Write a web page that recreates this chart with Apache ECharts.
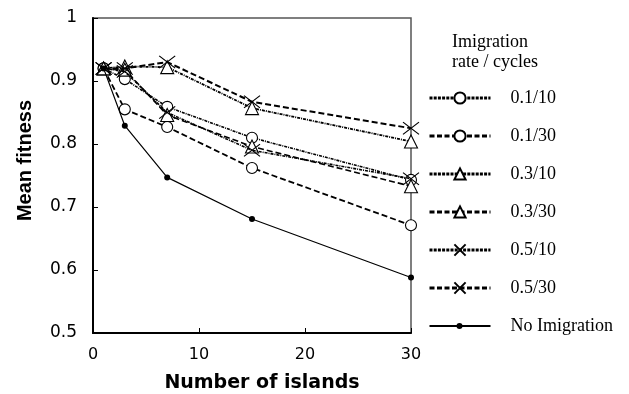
<!DOCTYPE html>
<html>
<head>
<meta charset="utf-8">
<script src="https://cdn.jsdelivr.net/npm/echarts@6/dist/echarts.min.js"></script>
<style>
html,body{margin:0;padding:0;background:#fff;}
#chart{width:629px;height:394px;}
</style>
</head>
<body>
<div id="chart"></div>
<script>
// ---- data ----
const islands = [1, 3, 7, 15, 30];
const seriesNames = ['0.1/10', '0.1/30', '0.3/10', '0.3/30', '0.5/10', '0.5/30', 'No Imigration'];
const r01c10 = [0.920, 0.903, 0.859, 0.810, 0.743];
const r01c30 = [0.920, 0.855, 0.827, 0.762, 0.671];
const r03c10 = [0.920, 0.923, 0.922, 0.857, 0.804];
const r03c30 = [0.920, 0.918, 0.846, 0.796, 0.733];
const r05c10 = [0.920, 0.915, 0.850, 0.790, 0.745];
const r05c30 = [0.920, 0.920, 0.930, 0.867, 0.825];
const noImig = [0.920, 0.829, 0.747, 0.681, 0.588];
const xTicks = [0, 10, 20, 30];
const yTicks = [0.5, 0.6, 0.7, 0.8, 0.9, 1];

const values = [r01c10, r01c30, r03c10, r03c30, r05c10, r05c30, noImig];

const DOTTED = [3, 1, 1, 1];
const DASHED = [6, 3];
const CROSS = 'path://M0,0L16,14M16,0L0,14';

const styles = [
  {symbol: 'circle', size: 11, dash: DOTTED, width: 1.6, legendDash: [3, 1.2]},
  {symbol: 'circle', size: 11, dash: DASHED, width: 1.8, legendDash: [5, 2.5]},
  {symbol: 'triangle', size: 13, dash: DOTTED, width: 1.8, legendDash: [3, 1.2]},
  {symbol: 'triangle', size: 13, dash: DASHED, width: 1.6, legendDash: [5, 2.5]},
  {symbol: CROSS, size: [16, 14], dash: DOTTED, width: 1.6, legendDash: [3, 1.2]},
  {symbol: CROSS, size: [16, 14], dash: DASHED, width: 2, legendDash: [5, 2.5]},
  {symbol: 'circle', size: 6, dash: 'solid', width: 1.2, legendDash: 'solid'}
];

const series = seriesNames.map((name, i) => {
  const st = styles[i];
  const isNo = i === 6;
  return {
    name: name,
    type: 'line',
    data: islands.map((x, k) => [x, values[i][k]]),
    symbol: st.symbol,
    symbolSize: st.size,
    symbolKeepAspect: true,
    showAllSymbol: true,
    z: isNo ? 3 : 2 + i * 0.01,
    lineStyle: {color: '#000', width: st.width, type: st.dash},
    itemStyle: isNo
      ? {color: '#000', borderColor: '#000', borderWidth: 0}
      : {color: '#fff', borderColor: '#000', borderWidth: 1.1},
    emphasis: {disabled: true},
    animation: false
  };
});

const legendData = seriesNames.map((name, i) => {
  if (i === 6) {
    return {
      name: name,
      icon: 'path://M0,6H61V8H0Z M27,7A3,3 0 1,1 33,7A3,3 0 1,1 27,7Z',
      itemStyle: {color: '#000', borderWidth: 0}
    };
  }
  return {name: name, lineStyle: {width: 3, type: styles[i].legendDash, color: '#000'}};
});

const chart = echarts.init(document.getElementById('chart'), null, {renderer: 'canvas'});
chart.setOption({
  animation: false,
  backgroundColor: '#fff',
  title: {
    text: 'Imigration\nrate / cycles',
    left: 447,
    top: 27,
    textStyle: {fontFamily: 'Liberation Serif', fontSize: 18, fontWeight: 'normal', color: '#000', lineHeight: 20}
  },
  legend: {
    orient: 'vertical',
    left: 423,
    top: 84,
    itemWidth: 61,
    itemHeight: 14,
    itemGap: 20,
    selectedMode: false,
    data: legendData,
    textStyle: {fontFamily: 'Liberation Serif', fontSize: 18, color: '#000', lineHeight: 14, padding: [0, 0, 0, 15]}
  },
  grid: {
    left: 93, right: 218, top: 18, bottom: 61,
    containLabel: false,
    outerBoundsMode: 'none',
    show: true, borderColor: '#555', borderWidth: 1.5, backgroundColor: 'transparent'
  },
  xAxis: {
    type: 'value',
    min: xTicks[0], max: xTicks[xTicks.length - 1], interval: 10,
    name: 'Number of islands',
    nameLocation: 'middle',
    nameGap: 41,
    nameTextStyle: {fontFamily: 'DejaVu Sans', fontWeight: 'bold', fontSize: 19, color: '#000', padding: [0, 0, 0, 20]},
    axisLine: {lineStyle: {color: '#000', width: 2}},
    axisTick: {inside: true, length: 5, lineStyle: {color: '#000', width: 1}},
    axisLabel: {fontFamily: 'DejaVu Sans', fontSize: 16, color: '#000', margin: 14},
    splitLine: {show: false}
  },
  yAxis: {
    type: 'value',
    min: yTicks[0], max: yTicks[yTicks.length - 1], interval: 0.1,
    name: 'Mean fitness',
    nameLocation: 'middle',
    nameRotate: 90,
    nameGap: 58,
    nameTextStyle: {fontFamily: 'Liberation Sans', fontWeight: 'bold', fontSize: 20, color: '#000', padding: [0, 0, 0, 30]},
    axisLine: {show: true, lineStyle: {color: '#000', width: 2}},
    axisTick: {show: true, inside: true, length: 5, lineStyle: {color: '#000', width: 1}},
    axisLabel: {
      fontFamily: 'DejaVu Sans', fontSize: 17, color: '#000', margin: 16,
      formatter: v => (Math.abs(v - 1) < 1e-9 ? '1' : v.toFixed(1))
    },
    splitLine: {show: false}
  },
  series: series
});
</script>
</body>
</html>
